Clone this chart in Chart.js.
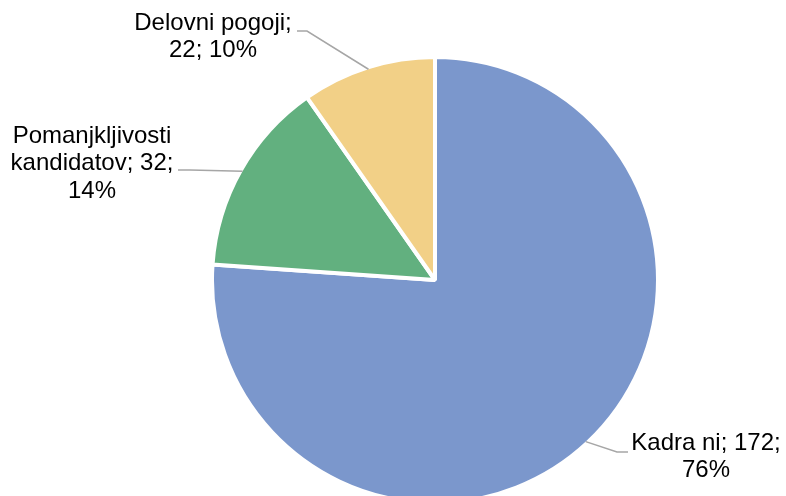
<!DOCTYPE html>
<html>
<head>
<meta charset="utf-8">
<script src="https://cdn.jsdelivr.net/npm/chart.js@4/dist/chart.umd.min.js"></script>
<style>
  html, body { margin: 0; padding: 0; background: #ffffff; overflow: hidden; }
  #wrap { width: 786px; height: 496px; position: relative; }
</style>
</head>
<body>
<div id="wrap"><canvas id="c" width="786" height="496"></canvas></div>
<script>
// ---- data ----
const categories = ["Kadra ni", "Pomanjkljivosti kandidatov", "Delovni pogoji"];
const values = [172, 32, 22];
const colors = ["#7B97CC", "#62B07F", "#F2D087"];

// ---- label layout (positions only) ----
const labelCenters = [ {x: 706, y: 443}, {x: 92, y: 136}, {x: 213, y: 23} ];
const leaderElbows = [ {x: 617, y: 452}, {x: 190, y: 170}, {x: 307, y: 31} ];
const leaderEnds   = [ {x: 628, y: 452}, {x: 178, y: 170}, {x: 297, y: 31} ];
const FONT = '24px "Liberation Sans", Arial, sans-serif';
const LINE_H = 27.5;
const WRAP_W = 172;

function wrapText(ctx, text, maxW) {
  const words = text.split(' ');
  const lines = [];
  let cur = '';
  for (const w of words) {
    const t = cur ? cur + ' ' + w : w;
    if (cur && ctx.measureText(t).width > maxW) { lines.push(cur); cur = w; }
    else cur = t;
  }
  if (cur) lines.push(cur);
  return lines;
}

const labelPlugin = {
  id: 'pieLabels',
  afterDatasetsDraw(chart) {
    const ctx = chart.ctx;
    const meta = chart.getDatasetMeta(0);
    const data = chart.data.datasets[0].data;
    const total = data.reduce((a, b) => a + b, 0);
    ctx.save();
    meta.data.forEach((arc, i) => {
      const p = arc.getProps(['x', 'y', 'startAngle', 'endAngle', 'outerRadius'], true);
      const mid = (p.startAngle + p.endAngle) / 2;
      const r = p.outerRadius - 2;
      const sx = p.x + Math.cos(mid) * r;
      const sy = p.y + Math.sin(mid) * r;
      ctx.strokeStyle = '#A6A6A6';
      ctx.lineWidth = 1.5;
      ctx.beginPath();
      ctx.moveTo(sx, sy);
      ctx.lineTo(leaderElbows[i].x, leaderElbows[i].y);
      ctx.lineTo(leaderEnds[i].x, leaderEnds[i].y);
      ctx.stroke();

      const pct = Math.round(data[i] / total * 100);
      const text = chart.data.labels[i] + '; ' + data[i] + '; ' + pct + '%';
      ctx.font = FONT;
      ctx.fillStyle = '#000000';
      ctx.textAlign = 'center';
      ctx.textBaseline = 'middle';
      const lines = wrapText(ctx, text, WRAP_W);
      lines.forEach((ln, k) => {
        ctx.fillText(ln, labelCenters[i].x, labelCenters[i].y + k * LINE_H);
      });
    });
    ctx.restore();
  }
};

new Chart(document.getElementById('c'), {
  type: 'pie',
  data: {
    labels: categories,
    datasets: [{
      data: values,
      backgroundColor: colors,
      borderColor: '#ffffff',
      borderWidth: 4,
      radius: 223,
      clip: false
    }]
  },
  options: {
    responsive: false,
    animation: false,
    devicePixelRatio: 1,
    layout: { padding: { left: 84, right: 0, top: 64, bottom: 0 } },
    plugins: {
      legend: { display: false },
      tooltip: { enabled: false },
      title: { display: false }
    }
  },
  plugins: [labelPlugin]
});
</script>
</body>
</html>
